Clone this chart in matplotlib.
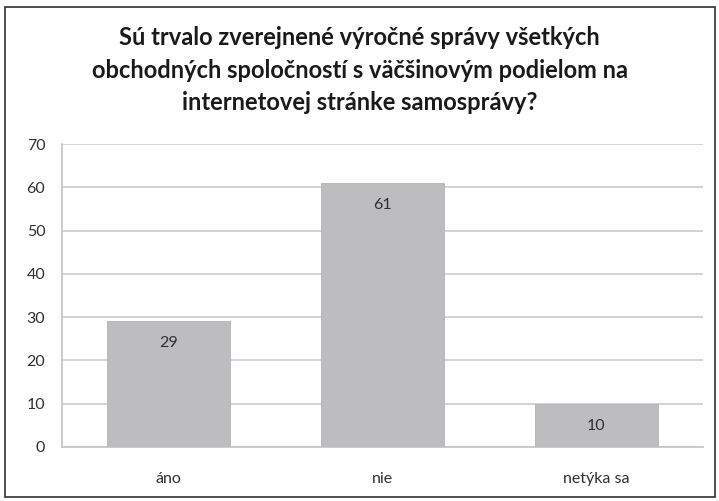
import matplotlib
matplotlib.use("Agg")
import matplotlib.pyplot as plt
from matplotlib.patches import Rectangle

categories = ["áno", "nie", "netýka sa"]
values = [29, 61, 10]
yticks = [0, 10, 20, 30, 40, 50, 60, 70]
title = "Sú trvalo zverejnené výročné správy všetkých\nobchodných spoločností s väčšinovým podielom na\ninternetovej stránke samosprávy?"

plt.rcParams['font.family'] = ['Lato', 'DejaVu Sans']

W, H = 719, 501
fig = plt.figure(figsize=(W/100, H/100), dpi=100)
fig.patch.set_facecolor("white")
fig.patches.append(Rectangle((5/W, 4/H), 710/W, 490/H, transform=fig.transFigure,
                             fill=False, edgecolor="#303030", linewidth=1.2))

ax = fig.add_axes([62/W, 54/H, 641/W, 303/H])
x = list(range(len(categories)))
bars = ax.bar(x, values, width=0.575, color="#bdbdbf", edgecolor="#b4b4b6", linewidth=0.6, zorder=3)
ax.set_xlim(-0.5, len(categories) - 0.5)
ax.set_ylim(0, 70)
ax.set_yticks(yticks)
ax.set_xticks(x)
ax.set_xticklabels(categories)
ax.yaxis.grid(True, color="#d0d0d0", linewidth=1.3, zorder=0)
ax.tick_params(axis="both", length=0, labelsize=11.5, labelcolor="#303030")
ax.tick_params(axis="x", pad=18)
ax.tick_params(axis="y", pad=12)
for s in ["top", "right"]:
    ax.spines[s].set_visible(False)
for s in ["left", "bottom"]:
    ax.spines[s].set_color("#c8c8c8")
    ax.spines[s].set_linewidth(1.3)

for b, v in zip(bars, values):
    ax.annotate(str(v), (b.get_x() + b.get_width()/2, v), xytext=(0, -22),
                textcoords="offset pixels",
                ha="center", va="center", fontsize=11.5, color="#303030", zorder=4)

fig.text(0.5, 1 - 70/H, title, ha="center", va="center", fontsize=17,
         fontweight="bold", color="#1a1a1a", linespacing=1.52)

fig.savefig("out.png", dpi=100)
